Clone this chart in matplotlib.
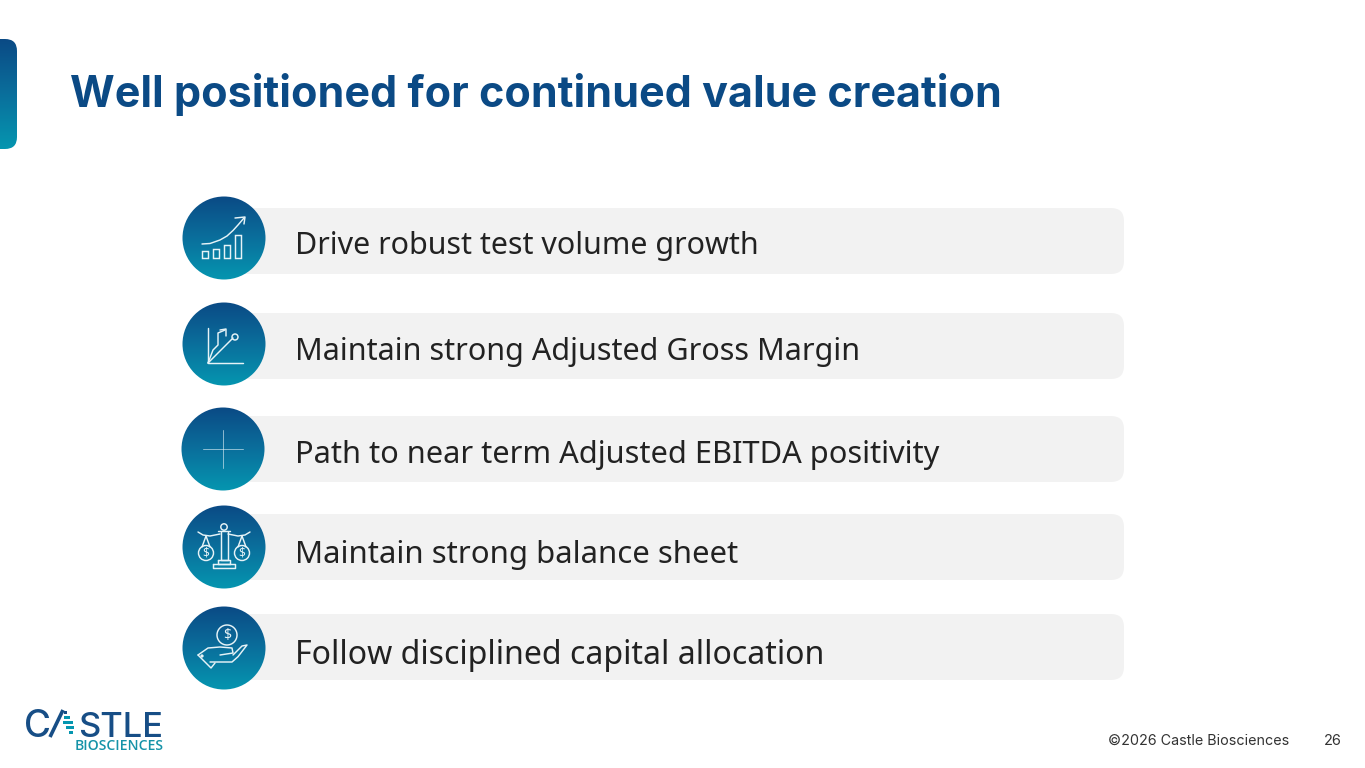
import numpy as np
import matplotlib
matplotlib.use("Agg")
import matplotlib.pyplot as plt
from matplotlib.patches import FancyBboxPatch, Circle, Rectangle
from matplotlib.colors import LinearSegmentedColormap

W, H = 1365, 768
title_text = "Well positioned for continued value creation"
items = ["Drive robust test volume growth",
         "Maintain strong Adjusted Gross Margin",
         "Path to near term Adjusted EBITDA positivity",
         "Maintain strong balance sheet",
         "Follow disciplined capital allocation"]
footer_text = "©2026 Castle Biosciences"
page_text = "26"

pill_tops = [208, 313, 416, 514, 614]
text_base = [254, 360, 463, 563, 664]
circle_cy = [238, 344, 449, 547, 648]
circle_cx = [224, 224, 223, 224, 224]
text_widths = [464, 565, 644, 443, 528]

NAVY = "#0B4A85"
TEAL = "#0596B0"
PILL = "#F2F2F2"
INK = "#222222"
cmap = LinearSegmentedColormap.from_list("g", [NAVY, "#0A6F9C", TEAL])

fig = plt.figure(figsize=(W / 100, H / 100), dpi=100, facecolor="white")
ax = fig.add_axes([0, 0, 1, 1])
ax.set_xlim(0, W)
ax.set_ylim(H, 0)
ax.axis("off")
grad = np.linspace(0, 1, 256).reshape(-1, 1)


def fit(x, y, s, width, size, **kw):
    t = ax.text(x, y, s, fontsize=size, ha="left", va="baseline", **kw)
    r = fig.canvas.get_renderer()
    t.set_fontsize(size * width / t.get_window_extent(r).width)
    return t


def gradient(patch, x0, x1, y0, y1):
    ax.add_patch(patch)
    im = ax.imshow(grad, extent=(x0, x1, y1, y0), cmap=cmap, aspect="auto", zorder=patch.get_zorder())
    im.set_clip_path(patch)
    ax.set_xlim(0, W)
    ax.set_ylim(H, 0)


tab = FancyBboxPatch((-30, 39), 47, 110, boxstyle="round,pad=0,rounding_size=12",
                     fc="none", ec="none", zorder=1)
gradient(tab, -30, 17, 39, 149)

fit(70, 107, title_text, 931, 30, family="Inter", weight="bold", color=NAVY)

for top, base, s, w in zip(pill_tops, text_base, items, text_widths):
    ax.add_patch(FancyBboxPatch((225, top), 899, 66, boxstyle="round,pad=0,rounding_size=13",
                                fc=PILL, ec="none", zorder=1))
    fit(295, base, s, w, 22, family="Noto Sans", color=INK, zorder=3)

for cx, cy in zip(circle_cx, circle_cy):
    c = Circle((cx, cy), 41.5, fc="none", ec="none", zorder=2)
    gradient(c, cx - 42, cx + 42, cy - 42, cy + 42)

LW = 1.05
ICON = "#E6F3F7"


def line(cx, cy, dx, dy, lw=LW, color=ICON, alpha=1.0):
    ax.plot(cx + np.asarray(dx, float), cy + np.asarray(dy, float), color=color, lw=lw, alpha=alpha,
            solid_capstyle="round", solid_joinstyle="round", zorder=4)


def box(cx, cy, x, y, w, h):
    ax.add_patch(Rectangle((cx + x, cy + y), w, h, fc="none", ec=ICON, lw=LW, zorder=4))


def ring(cx, cy, x, y, r, lw=LW):
    ax.add_patch(Circle((cx + x, cy + y), r, fc="none", ec=ICON, lw=lw, zorder=4))


def dollar(cx, cy, x, y, size):
    ax.text(cx + x, cy + y, "$", color=ICON, fontsize=size, ha="center", va="center",
            family="Noto Sans", zorder=5)


# icon 1: rising bars and arrow
cx, cy = circle_cx[0], circle_cy[0]
box(cx, cy, -22, 13, 6, 7)
box(cx, cy, -11, 11, 6, 9)
box(cx, cy, 0, 7, 6, 13)
box(cx, cy, 11, -3, 6, 23)
line(cx, cy, [-22, -14, -4, 3, 9, 14, 20], [6, 5.5, 2, -2, -7.5, -13, -20])
line(cx, cy, [11, 21, 20], [-20, -21, -14])

# icon 2: diverging paths on axes
cx, cy = circle_cx[1], circle_cy[1]
line(cx, cy, [-16, -16, 19], [-16, 19, 19])
line(cx, cy, [-16, 9], [19, -6])
ring(cx, cy, 11, -7, 3)
line(cx, cy, [-16, -11, -6, -6, 1], [19, 6, 1, -11, -14])
line(cx, cy, [-4, 2, 2], [-14, -15, -8])

# icon 3: thin cross
cx, cy = circle_cx[2], circle_cy[2]
line(cx, cy, [-20, 20], [0, 0], lw=0.7, alpha=0.6)
line(cx, cy, [0, 0], [-19, 19], lw=0.7, alpha=0.6)

# icon 4: scales
cx, cy = circle_cx[3], circle_cy[3]
ring(cx, cy, 0, -20, 3.2)
line(cx, cy, [-3.5, -3.5, 3.5, 3.5], [-15, 13, 13, -15])
line(cx, cy, [-6, 6], [-16, -16])
line(cx, cy, [-6, 6, 6, -6, -6], [13, 13, 17, 17, 13])
line(cx, cy, [-11, 11, 11, -11, -11], [17, 17, 21, 21, 17])
line(cx, cy, [-26, -21, -14, -4], [-15, -12, -11, -13])
line(cx, cy, [26, 21, 14, 4], [-15, -12, -11, -13])
for sx in (-1, 1):
    ring(cx, cy, sx * 18, 6, 7.5)
    dollar(cx, cy, sx * 18, 6, 8.5)
    line(cx, cy, [sx * 18, sx * 14], [-11, 0])
    line(cx, cy, [sx * 18, sx * 22], [-11, 0])

# icon 5: hand with coin
cx, cy = circle_cx[4], circle_cy[4]
ring(cx, cy, 3, -13, 10)
dollar(cx, cy, 3, -13, 10)
line(cx, cy, [-26, -16, -4, 8, 9, -4], [7, 0, -1, 0, 5, 7])
line(cx, cy, [9, 18, 23, 14, 8, -14], [7, -2, -3, 8.7, 14, 14])
line(cx, cy, [-26, -13, -9], [7, 20, 15])
ring(cx, cy, -22, 8, 0.9)

# logo
LOGO = "#174E86"
fit(24, 737, "C", 27, 30, family="Inter", weight="medium", color=LOGO, zorder=3)
ax.plot([50, 63], [737, 710], color=LOGO, lw=2.6, solid_capstyle="butt", zorder=3)
stripe_y = [711, 716, 721, 726, 731]
stripe_hw = [1.5, 3, 5, 4, 2]
for i, (y, hw) in enumerate(zip(stripe_y, stripe_hw)):
    ax.add_patch(Rectangle((65 + i * 1.6 - hw, y), 2 * hw, 3, fc=TEAL if i else LOGO, ec="none", zorder=3))
fit(78, 737, "STLE", 85, 30, family="Inter", weight="medium", color=LOGO, zorder=3)
fit(75, 750, "BIOSCIENCES", 88, 9, family="Open Sans", weight="semibold", color="#1593A8", zorder=3)

# footer
fit(1108, 745, footer_text, 182, 10, family="Inter", color="#333333")
fit(1324, 745, page_text, 18, 10, family="Inter", color="#333333")

fig.savefig("out.png", dpi=100, facecolor="white")
